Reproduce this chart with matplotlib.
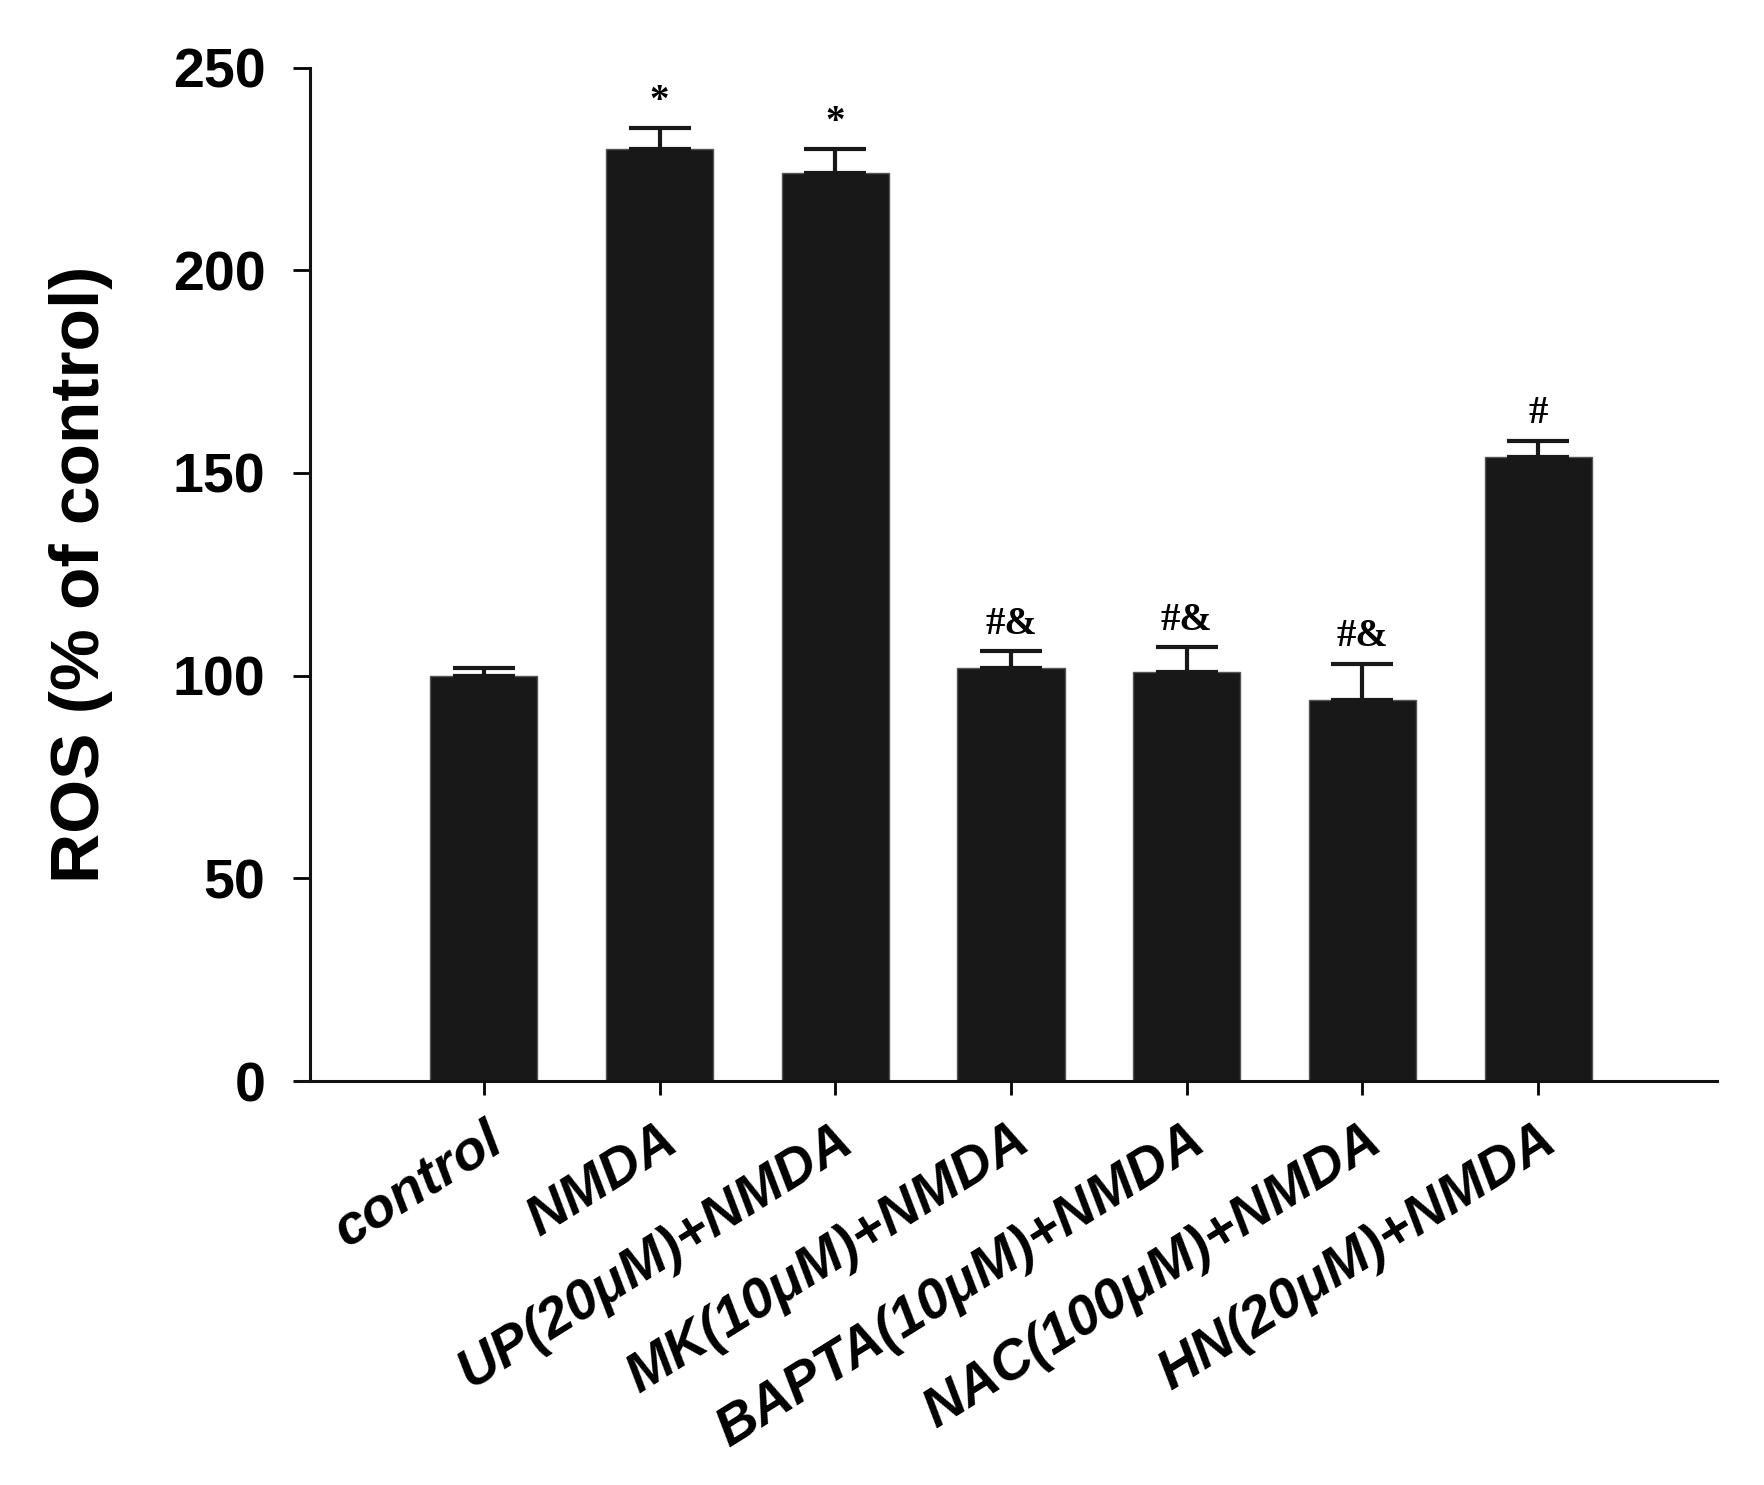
"""ROS levels (% of control) after NMDA with various pretreatments."""

import matplotlib
matplotlib.use("Agg")
import matplotlib.pyplot as plt
import numpy as np

groups = [
    "control",
    "NMDA",
    "UP(20\u03bcM)+NMDA",
    "MK(10\u03bcM)+NMDA",
    "BAPTA(10\u03bcM)+NMDA",
    "NAC(100\u03bcM)+NMDA",
    "HN(20\u03bcM)+NMDA",
]
ros_mean = [100, 230, 224, 102, 101, 94, 154]
ros_sem = [2, 5, 6, 4, 6, 9, 4]
marks = ["", "*", "*", "#&", "#&", "#&", "#"]
y_ticks = [0, 50, 100, 150, 200, 250]

plt.rcParams["font.family"] = ["Liberation Sans", "DejaVu Sans"]


def main() -> None:
    fig = plt.figure(figsize=(17.65, 14.85), dpi=100)
    ax = fig.add_axes([0.167, 0.272, 0.806, 0.6825])

    x = np.arange(len(groups))
    bar_color = "#181818"
    ax.bar(x, ros_mean, width=0.61, color=bar_color, edgecolor="#555555",
           linewidth=1.0, zorder=2)
    ax.errorbar(x, ros_mean, yerr=[np.zeros(len(x)), ros_sem], fmt="none",
                ecolor=bar_color, elinewidth=3, capsize=22, capthick=3, zorder=3)

    for xi, m, e, lab in zip(x, ros_mean, ros_sem, marks):
        if lab:
            ax.text(xi, m + e + 2.0, lab, ha="center", va="bottom",
                    fontsize=28, fontweight="bold",
                    family=["Liberation Serif", "DejaVu Serif"])

    ax.set_xlim(-1.076, 7.02)
    ax.set_ylim(0, 250)
    ax.spines["top"].set_visible(False)
    ax.spines["right"].set_visible(False)
    ax.spines["left"].set_position(("data", -0.99))
    ax.spines["left"].set_bounds(0, 250)
    for s in ("left", "bottom"):
        ax.spines[s].set_linewidth(2.2)
        ax.spines[s].set_color("#111111")

    ax.set_yticks(y_ticks)
    ax.set_yticklabels([str(t) for t in y_ticks], fontsize=40, fontweight="bold")
    ax.tick_params(axis="y", direction="out", length=12, width=2.0, pad=20)

    ax.set_xticks(x)
    ax.set_xticklabels(groups, fontsize=40, fontweight="bold", style="italic",
                       rotation=32, ha="right", va="top", rotation_mode="anchor")
    ax.tick_params(axis="x", direction="out", length=10, width=2.0, pad=14)

    ax.set_ylabel("ROS (% of control)", fontsize=50, fontweight="bold")
    ax.yaxis.set_label_coords(-0.128, 0.5)

    fig.savefig("out.png", dpi=100)
    plt.close(fig)


if __name__ == "__main__":
    main()
